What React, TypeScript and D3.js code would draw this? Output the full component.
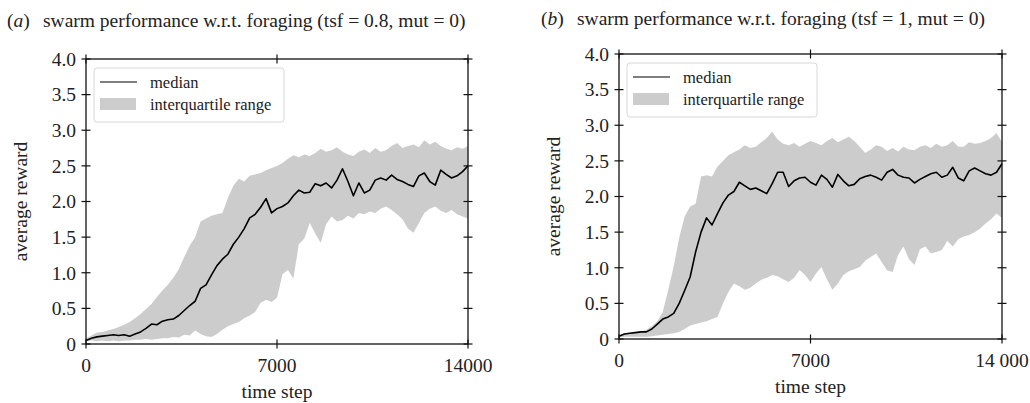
import React from 'react';
import * as d3 from 'd3';

// time steps shared by every series (sampled every 200 steps)
const timeSteps = d3.range(0, 14001, 200);

// panel (a): tsf = 0.8
const medianA = [
  0.05, 0.08, 0.10, 0.11, 0.12, 0.13, 0.12, 0.13, 0.11, 0.14,
  0.17, 0.22, 0.28, 0.27, 0.32, 0.34, 0.35, 0.40, 0.47, 0.54,
  0.60, 0.78, 0.83, 0.97, 1.10, 1.19, 1.26, 1.40, 1.50, 1.62,
  1.77, 1.82, 1.92, 2.04, 1.84, 1.90, 1.93, 1.98, 2.08, 2.16,
  2.12, 2.13, 2.25, 2.22, 2.26, 2.19, 2.30, 2.46, 2.28, 2.08,
  2.26, 2.12, 2.16, 2.30, 2.33, 2.30, 2.37, 2.31, 2.28, 2.24,
  2.21, 2.36, 2.40, 2.28, 2.23, 2.44, 2.38, 2.33, 2.36, 2.42,
  2.50,
];
const upperA = [
  0.08, 0.12, 0.16, 0.17, 0.19, 0.21, 0.24, 0.27, 0.31, 0.36,
  0.42, 0.49, 0.56, 0.66, 0.75, 0.83, 0.93, 1.05, 1.22, 1.38,
  1.50, 1.72, 1.76, 1.80, 1.82, 1.84, 2.05, 2.22, 2.32, 2.28,
  2.36, 2.38, 2.40, 2.44, 2.47, 2.50, 2.54, 2.60, 2.65, 2.62,
  2.66, 2.64, 2.68, 2.74, 2.70, 2.72, 2.76, 2.70, 2.66, 2.64,
  2.70, 2.73, 2.68, 2.75, 2.70, 2.72, 2.78, 2.82, 2.75, 2.78,
  2.80, 2.76, 2.86, 2.80, 2.84, 2.78, 2.74, 2.72, 2.76, 2.74,
  2.78,
];
const lowerA = [
  0.04, 0.05, 0.04, 0.05, 0.04, 0.05, 0.04, 0.05, 0.05, 0.06,
  0.06, 0.07, 0.06, 0.07, 0.08, 0.08, 0.10, 0.09, 0.13, 0.12,
  0.19, 0.14, 0.11, 0.10, 0.14, 0.20, 0.25, 0.28, 0.31, 0.36,
  0.40, 0.45, 0.58, 0.62, 0.59, 0.65, 0.98, 1.04, 0.92, 1.40,
  1.48, 1.70, 1.55, 1.42, 1.68, 1.79, 1.72, 1.74, 1.80, 1.76,
  1.84, 1.82, 1.86, 1.84, 1.90, 1.93, 1.88, 1.82, 1.75, 1.62,
  1.56, 1.70, 1.84, 1.90, 1.93, 1.87, 1.84, 1.88, 1.82, 1.79,
  1.76,
];

// panel (b): tsf = 1
const medianB = [
  0.04, 0.07, 0.08, 0.09, 0.10, 0.10, 0.14, 0.21, 0.28, 0.31,
  0.36, 0.50, 0.68, 0.87, 1.22, 1.50, 1.70, 1.60, 1.76, 1.91,
  2.02, 2.07, 2.20, 2.15, 2.10, 2.12, 2.08, 2.04, 2.18, 2.34,
  2.34, 2.14, 2.22, 2.26, 2.27, 2.20, 2.16, 2.30, 2.24, 2.13,
  2.31, 2.22, 2.15, 2.17, 2.25, 2.28, 2.30, 2.27, 2.23, 2.34,
  2.38, 2.30, 2.27, 2.26, 2.19, 2.24, 2.28, 2.32, 2.34, 2.27,
  2.30, 2.41, 2.26, 2.22, 2.36, 2.40, 2.36, 2.32, 2.30, 2.34,
  2.46,
];
const upperB = [
  0.06, 0.08, 0.09, 0.10, 0.10, 0.13, 0.18, 0.25, 0.38, 0.69,
  1.02, 1.42, 1.72, 1.86, 1.90, 2.28, 2.30, 2.28, 2.42, 2.50,
  2.58, 2.62, 2.66, 2.72, 2.68, 2.70, 2.76, 2.82, 2.91, 2.80,
  2.74, 2.72, 2.75, 2.70, 2.74, 2.78, 2.75, 2.72, 2.78, 2.82,
  2.76, 2.80, 2.84, 2.78, 2.70, 2.61, 2.66, 2.72, 2.70, 2.64,
  2.68, 2.63, 2.70, 2.66, 2.65, 2.70, 2.72, 2.68, 2.74, 2.70,
  2.72, 2.78, 2.70, 2.70, 2.76, 2.74, 2.75, 2.78, 2.82, 2.89,
  2.76,
];
const lowerB = [
  0.02, 0.03, 0.03, 0.03, 0.03, 0.03, 0.04, 0.05, 0.06, 0.07,
  0.08, 0.10, 0.14, 0.19, 0.21, 0.23, 0.25, 0.28, 0.31, 0.50,
  0.66, 0.78, 0.74, 0.69, 0.72, 0.78, 0.83, 0.86, 0.90, 0.88,
  0.84, 0.80, 0.86, 0.97, 0.90, 0.80, 0.92, 1.01, 0.84, 0.69,
  0.78, 0.90, 0.95, 0.98, 1.01, 1.10, 1.15, 1.20, 1.08, 0.96,
  0.94, 1.18, 1.30, 1.12, 1.04, 1.26, 1.30, 1.20, 1.22, 1.25,
  1.38, 1.30, 1.40, 1.44, 1.46, 1.50, 1.55, 1.62, 1.68, 1.76,
  1.70,
];

const yTicks = [0, 0.5, 1, 1.5, 2, 2.5, 3, 3.5, 4];
const yTickLabels = ['0', '0.5', '1.0', '1.5', '2.0', '2.5', '3.0', '3.5', '4.0'];
const xTicks = [0, 7000, 14000];
const xTickLabelsA = ['0', '7000', '14000'];
const xTickLabelsB = ['0', '7000', '14 000'];

const FONT = '"Liberation Serif", "DejaVu Serif", serif';
const BAND = '#cccccc';

interface PanelProps {
  left: number;
  right: number;
  top: number;
  bottom: number;
  letter: string;
  title: string;
  titleX: number;
  titleY: number;
  median: number[];
  lower: number[];
  upper: number[];
  xLabels: string[];
}

const Panel: React.FC<PanelProps> = ({ left, right, top, bottom, letter, title, titleX, titleY, median, lower, upper, xLabels }) => {
  const x = d3.scaleLinear().domain([0, 14000]).range([left, right]);
  const y = d3.scaleLinear().domain([0, 4]).range([bottom, top]);

  const area = d3.area<number>()
    .x((_, i) => x(timeSteps[i]))
    .y0((_, i) => y(lower[i]))
    .y1((_, i) => y(upper[i]));
  const line = d3.line<number>()
    .x((_, i) => x(timeSteps[i]))
    .y(d => y(d));

  const tick = 4.5;
  const lx = left + 8;
  const ly = top + 9;

  return (
    <g fontFamily={FONT} fill="#222">
      {/* title */}
      <text x={titleX} y={titleY} fontSize={19.5}>
        (<tspan fontStyle="italic">{letter}</tspan>)
        <tspan x={titleX + 36}>{title}</tspan>
      </text>

      {/* data */}
      <path d={area(upper) || ''} fill={BAND} stroke="none" />
      <path d={line(median) || ''} fill="none" stroke="#000" strokeWidth={1.6} strokeLinejoin="round" />

      {/* frame */}
      <rect x={left} y={top} width={right - left} height={bottom - top} fill="none" stroke="#111" strokeWidth={1.3} />

      {/* y ticks, both sides */}
      {yTicks.map((t, i) => (
        <g key={'y' + i}>
          <line x1={left - tick} x2={left + tick} y1={y(t)} y2={y(t)} stroke="#111" strokeWidth={1.2} />
          <line x1={right - tick} x2={right + tick} y1={y(t)} y2={y(t)} stroke="#111" strokeWidth={1.2} />
          <text x={left - 10} y={y(t)} dy="0.35em" textAnchor="end" fontSize={19.5}>{yTickLabels[i]}</text>
        </g>
      ))}

      {/* x ticks, top and bottom */}
      {xTicks.map((t, i) => (
        <g key={'x' + i}>
          <line x1={x(t)} x2={x(t)} y1={bottom - tick} y2={bottom + tick} stroke="#111" strokeWidth={1.2} />
          <line x1={x(t)} x2={x(t)} y1={top - tick} y2={top + tick} stroke="#111" strokeWidth={1.2} />
          <text x={x(t)} y={bottom + 28} textAnchor="middle" fontSize={19.5}>{xLabels[i]}</text>
        </g>
      ))}

      {/* axis labels */}
      <text x={(left + right) / 2} y={bottom + 54} textAnchor="middle" fontSize={19.5}>time step</text>
      <text
        transform={`translate(${left - 59},${(top + bottom) / 2}) rotate(-90)`}
        textAnchor="middle"
        fontSize={19.5}
      >
        average reward
      </text>

      {/* legend */}
      <rect x={lx} y={ly} width={190} height={54} rx={3} fill="#fff" fillOpacity={0.85} stroke="#d8d8d8" strokeWidth={1} />
      <line x1={lx + 6} x2={lx + 43} y1={ly + 14} y2={ly + 14} stroke="#000" strokeWidth={1.2} />
      <text x={lx + 56} y={ly + 14} dy="0.35em" fontSize={16.5}>median</text>
      <rect x={lx + 6} y={ly + 30} width={36} height={12} fill={BAND} />
      <text x={lx + 56} y={ly + 36} dy="0.35em" fontSize={16.5}>interquartile range</text>
    </g>
  );
};

export default function App() {
  return (
    <svg
      width={1030}
      height={403}
      style={{ position: 'absolute', left: 0, top: 0, background: '#fff' }}
    >
      <Panel
        left={86} right={468} top={59} bottom={344}
        letter="a" title="swarm performance w.r.t. foraging (tsf = 0.8, mut = 0)" titleX={7} titleY={27}
        median={medianA} lower={lowerA} upper={upperA} xLabels={xTickLabelsA}
      />
      <Panel
        left={619} right={1002} top={54} bottom={339}
        letter="b" title="swarm performance w.r.t. foraging (tsf = 1, mut = 0)" titleX={541} titleY={25}
        median={medianB} lower={lowerB} upper={upperB} xLabels={xTickLabelsB}
      />
    </svg>
  );
}
